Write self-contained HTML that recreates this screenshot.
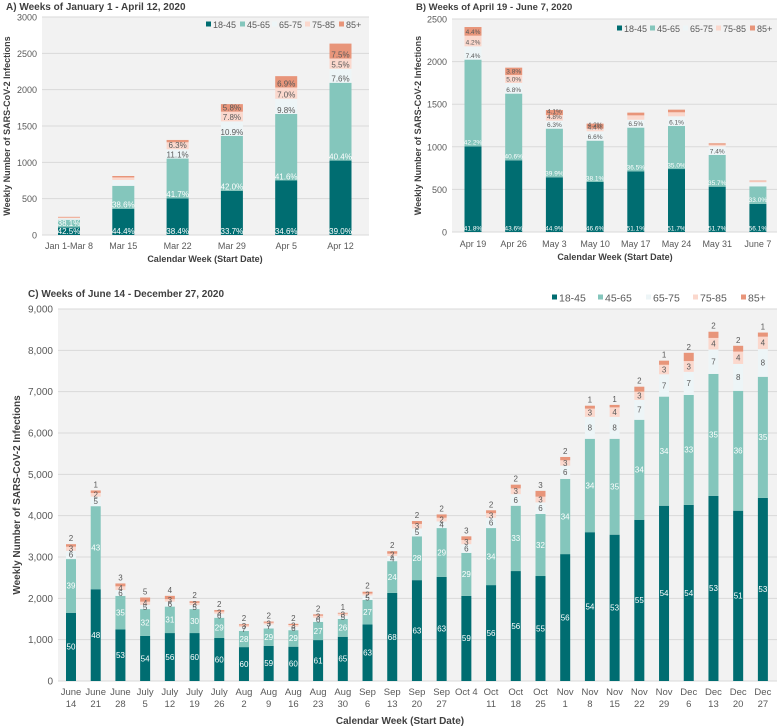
<!DOCTYPE html>
<html><head><meta charset="utf-8"><style>
html,body{margin:0;padding:0;background:#fff;}
svg{display:block;font-family:"Liberation Sans",Arial,sans-serif;}
</style></head><body>
<svg id="chart" width="779" height="728" viewBox="0 0 779 728" xmlns="http://www.w3.org/2000/svg"></svg>
<script>
// ===== Panel A data =====
const catsA = ["Jan 1-Mar 8","Mar 15","Mar 22","Mar 29","Apr 5","Apr 12"];
const a1845 = [105,361,503,608,750,1024];
const a4565 = [105,316,549,755,915,1071];
const a6575 = [20,80,128,201,210,192];
const a7585 = [10,35,96,133,155,141];
const a85 = [10,20,32,104,156,206];
const aLab1 = ["42.5%","44.4%","38.4%","33.7%","34.6%","39.0%"];
const aLab2 = ["38.1%","38.6%","41.7%","42.0%","41.6%","40.4%"];
const aLab3 = ["","","11.1%","10.9%","9.8%","7.6%"];
const aLab4 = ["","","6.3%","7.8%","7.0%","5.5%"];
const aLab5 = ["","","","5.8%","6.9%","7.5%"];
const ticksA = [0,500,1000,1500,2000,2500,3000];
// ===== Panel B data =====
const catsB = ["Apr 19","Apr 26","May 3","May 10","May 17","May 24","May 31","June 7"];
const b1845 = [1005,841,642,587,712,739,532,329];
const b4565 = [1018,783,571,485,513,505,372,207];
const b6575 = [156,125,94,110,93,114,102,47];
const b7585 = [125,94,66,31,51,47,19,12];
const b85 = [102,86,59,59,32,31,16,8];
const bLab1 = ["41.8%","43.6%","44.9%","46.6%","51.1%","51.7%","51.7%","56.1%"];
const bLab2 = ["42.2%","40.6%","39.9%","38.1%","36.5%","35.0%","35.7%","33.0%"];
const bLab3 = ["7.4%","6.8%","6.3%","6.6%","6.5%","6.1%","7.4%",""];
const bLab4 = ["4.2%","5.0%","4.8%","4.4%","","","",""];
const bLab5 = ["4.4%","3.8%","4.1%","4.2%","","","",""];
const ticksB = [0,500,1000,1500,2000,2500];
// ===== Panel C data =====
const catsC = ["June\n14","June\n21","June\n28","July\n5","July\n12","July\n19","July\n26","Aug\n2","Aug\n9","Aug\n16","Aug\n23","Aug\n30","Sep\n6","Sep\n13","Sep\n20","Sep\n27","Oct 4","Oct\n11","Oct\n18","Oct\n25","Nov\n1","Nov\n8","Nov\n15","Nov\n22","Nov\n29","Dec\n6","Dec\n13","Dec\n20","Dec\n27"];
const c1845 = [1650,2220,1250,1090,1160,1160,1040,820,850,830,990,1070,1370,2130,2440,2520,2060,2320,2660,2540,3070,3600,3540,3900,4240,4260,4480,4120,4430];
const c4565 = [1300,2010,810,650,640,580,490,390,420,400,440,430,590,770,1060,1180,1040,1380,1580,1500,1820,2260,2320,2420,2640,2660,2950,2900,2930];
const c6575 = [200,230,140,100,120,95,100,95,100,85,100,80,110,120,190,160,210,250,280,280,320,530,530,480,540,560,590,650,670];
const c7585 = [100,90,90,80,60,55,50,40,40,40,50,50,45,60,110,90,100,110,140,140,130,200,230,200,230,260,280,300,300];
const c85 = [60,60,70,100,80,40,35,28,28,28,32,20,45,60,70,80,90,70,90,140,80,70,60,120,100,200,150,140,100];
const cLab1 = [50,48,53,54,56,60,60,60,59,60,61,65,63,68,63,63,59,56,56,55,56,54,53,55,54,54,53,51,53];
const cLab2 = [39,43,35,32,31,30,29,28,29,29,27,26,27,24,28,29,29,34,33,32,34,34,35,34,34,33,35,36,35];
const cLab3 = [6,5,6,5,6,5,6,7,7,6,6,5,5,4,5,4,6,6,6,6,6,8,8,7,7,7,7,8,8];
const cLab4 = [3,2,4,4,3,3,3,3,3,3,3,3,2,2,3,2,3,3,3,3,3,3,4,3,3,3,4,4,4];
const cLab5 = [2,1,3,5,4,2,2,2,2,2,2,1,2,2,2,2,3,2,2,3,2,1,1,2,1,2,2,2,1];
const ticksC = [0,1000,2000,3000,4000,5000,6000,7000,8000,9000];

const COLORS = ["#006d71","#84c6bc","#edf5f7","#fbd8cd","#e8957a"];
const AGES = ["18-45","45-65","65-75","75-85","85+"];
const NS = "http://www.w3.org/2000/svg";
const svg = document.getElementById("chart");

function mk(tag, attrs, parent, text){
  const e = document.createElementNS(NS, tag);
  for (const k in attrs) e.setAttribute(k, attrs[k]);
  if (text !== undefined) e.textContent = text;
  (parent || svg).appendChild(e);
  return e;
}

function drawPanel(p){
  const g = mk("g", {});
  
  
  const yScale = v => p.y0 - v * (p.y0 - p.yTop) / p.max;
  const xScale = i => p.xFirst + i * p.step;
  const bg = mk("rect", {x:p.px0, y:p.yTop, width:p.px1-p.px0, height:p.y0-p.yTop, fill:"#f2f2f2"}, g);
  
  
  // title
  const t = mk("text", {x:p.titleX, y:p.titleY, "font-size":p.titleSize, "font-weight":"bold", fill:"#404040"}, g, p.title);
  
  
  // gridlines + ticks
  p.ticks.forEach(v => {
    const y = yScale(v);
    const gl = mk("line", {x1:p.px0, x2:p.px1, y1:y, y2:y, stroke:"#d9d9d9", "stroke-width":1}, g);
    
    
    const tl = mk("text", {x:p.px0-5, y:y+3.5, "text-anchor":"end", "font-size":p.tickSize, fill:"#595959"}, g, p.tickFmt(v));
    
    
  });
  // y title
  const ycy = (p.y0 + p.yTop)/2;
  const yt = mk("text", {x:p.yTitleX, y:ycy, "text-anchor":"middle", "font-size":p.axTitleSize, "font-weight":"bold", fill:"#404040", transform:`rotate(-90 ${p.yTitleX} ${ycy})`}, g, "Weekly Number of SARS-CoV-2 Infections");
  
  
  // x title
  const xt = mk("text", {x:p.xTitleX, y:p.xTitleY, "text-anchor":"middle", "font-size":p.axTitleSize, "font-weight":"bold", fill:"#404040"}, g, "Calendar Week (Start Date)");
  
  
  // bars
  p.cats.forEach((c, i) => {
    const cx = xScale(i);
    let cum = 0;
    const bx = cx - p.bw/2;
    const segTops = [];
    p.series.forEach((s, k) => {
      const v = s[i];
      const yb = yScale(cum), yt2 = yScale(cum+v);
      const r = mk("rect", {x:bx, y:yt2, width:p.bw, height:Math.max(0,yb-yt2), fill:COLORS[k]}, g);
      
      
      segTops.push([yb, yt2]);
      cum += v;
    });
    // labels
    p.labels.forEach((arr, k) => {
      const lab = arr[i];
      if (lab === "" || lab === undefined) return;
      const [yb, yt2] = segTops[k];
      let ly;
      if (p.labelMode === "base") ly = yb - 4 + p.labSize*0.35;
      else if (k === 4) ly = yt2 - 3;
      else ly = (yb + yt2)/2 + p.labSize*0.35;
      const col = k < 2 ? "#ffffff" : "#595959";
      const tx = mk("text", {x:cx, y:ly, "text-anchor":"middle", "font-size":p.labSize, fill:col}, g, String(lab) + (p.labSuffix||""));
      
      
    });
    // category label
    const lines = c.split("\n");
    lines.forEach((ln, j) => {
      const cl = mk("text", {x:cx, y:p.catY + j*p.catLine, "text-anchor":"middle", "font-size":p.catSize, fill:"#595959"}, g, ln);
      
      
    });
  });
  // legend
  AGES.forEach((a, k) => {
    const lx = p.legX[k];
    const sq = mk("rect", {x:lx, y:p.legY - p.legSq/2 - 1, width:p.legSq, height:p.legSq, fill:COLORS[k]}, g);
    
    
    const lt = mk("text", {x:lx + p.legSq + 2, y:p.legY + p.legSize*0.35, "font-size":p.legSize, fill:"#595959"}, g, a);
    
    
  });
}

drawPanel({id:"panel-a", title:"A) Weeks of January 1 - April 12, 2020", titleX:6, titleY:10, titleSize:10,
  cats:catsA, series:[a1845,a4565,a6575,a7585,a85], labels:[aLab1,aLab2,aLab3,aLab4,aLab5],
  ticks:ticksA, max:3000, tickFmt:v=>String(v), y0:235, yTop:17, px0:42, px1:369,
  xFirst:69, step:54.3, bw:22, tickSize:9, axTitleSize:9, yTitleX:10, xTitleX:205, xTitleY:262,
  catY:249, catLine:11, catSize:9, labSize:8, labelMode:"base",
  legX:[206,240,272,305,339], legY:25, legSq:5, legSize:9});

drawPanel({id:"panel-b", title:"B) Weeks of April 19  - June 7, 2020", titleX:416, titleY:10, titleSize:9.5,
  cats:catsB, series:[b1845,b4565,b6575,b7585,b85], labels:[bLab1,bLab2,bLab3,bLab4,bLab5],
  ticks:ticksB, max:2500, tickFmt:v=>String(v), y0:232, yTop:19, px0:452, px1:777,
  xFirst:473, step:40.7, bw:17, tickSize:9, axTitleSize:9, yTitleX:421, xTitleX:615, xTitleY:260,
  catY:247, catLine:11, catSize:9, labSize:6.5, labelMode:"base",
  legX:[617,650,683,716,750], legY:29, legSq:5, legSize:9});

drawPanel({id:"panel-c", title:"C) Weeks of June 14 - December 27, 2020", titleX:28, titleY:297, titleSize:10,
  cats:catsC, series:[c1845,c4565,c6575,c7585,c85], labels:[cLab1,cLab2,cLab3,cLab4,cLab5],
  ticks:ticksC, max:9000, tickFmt:v=>v.toLocaleString("en-US"), y0:681, yTop:309, px0:58, px1:777,
  xFirst:71, step:24.71, bw:10, tickSize:10, axTitleSize:10, yTitleX:20, xTitleX:400, xTitleY:724,
  catY:695, catLine:12, catSize:9.5, labSize:8, labelMode:"center",
  legX:[552,598,646,693,741], legY:298, legSq:5, legSize:10.5});
</script>
</body></html>
